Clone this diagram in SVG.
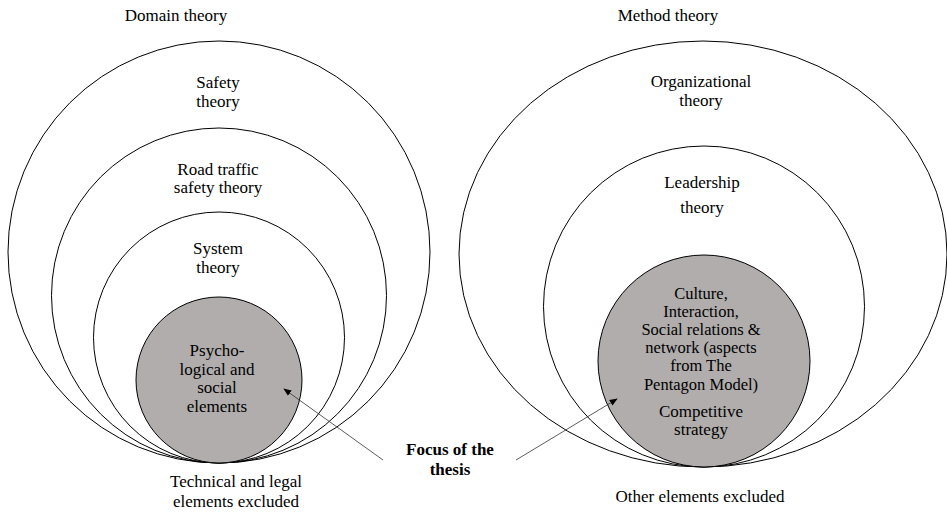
<svg xmlns="http://www.w3.org/2000/svg" width="947" height="513" viewBox="0 0 947 513" font-family="'Liberation Serif', 'DejaVu Serif', serif">
  <style>
    .ring { fill: none; stroke: #000; stroke-width: 1; }
    .core { fill: #b0adac; stroke: #000; stroke-width: 1; }
    text { font-family: 'Liberation Serif', 'DejaVu Serif', serif; font-size: 17px; fill: #000; text-anchor: middle; }
    .dense { font-size: 16.5px; }
    .bold { font-weight: bold; }
    .pointer { stroke: #333; stroke-width: 0.8; fill: none; marker-end: url(#tip); }
  </style>
  <defs>
    <marker id="tip" viewBox="0 0 10 10" refX="9" refY="5" markerWidth="8" markerHeight="8" markerUnits="userSpaceOnUse" orient="auto">
      <path d="M0,1 L10,5 L0,9 Z" fill="#000"/>
    </marker>
  </defs>
  <rect width="947" height="513" fill="#fff"/>

  <!-- Left nest: domain theory -->
  <text x="176" y="21">Domain theory</text>
  <g id="safety-theory">
    <circle class="ring" cx="219" cy="252" r="211"/>
    <text x="218" y="88">Safety</text>
    <text x="218" y="107">theory</text>
  </g>
  <g id="road-traffic-safety-theory">
    <circle class="ring" cx="219" cy="295.5" r="167.5"/>
    <text x="218" y="175">Road traffic</text>
    <text x="218" y="193">safety theory</text>
  </g>
  <g id="system-theory">
    <circle class="ring" cx="219" cy="337.5" r="125.5"/>
    <text x="218" y="254">System</text>
    <text x="218" y="273">theory</text>
  </g>
  <g id="psychological-social">
    <circle class="core" cx="219" cy="380" r="83"/>
    <text x="217" y="356">Psycho-</text>
    <text x="217" y="375">logical and</text>
    <text x="217" y="393">social</text>
    <text x="217" y="412">elements</text>
  </g>
  <g id="left-excluded">
    <text x="236" y="487">Technical and legal</text>
    <text x="236" y="507">elements excluded</text>
  </g>

  <!-- Right nest: method theory -->
  <text x="668" y="21">Method theory</text>
  <g id="organizational-theory">
    <ellipse class="ring" cx="703" cy="254" rx="244" ry="213"/>
    <text x="701" y="87">Organizational</text>
    <text x="701" y="106">theory</text>
  </g>
  <g id="leadership-theory">
    <circle class="ring" cx="704" cy="306.5" r="160.5"/>
    <text x="702" y="188">Leadership</text>
    <text x="702" y="213">theory</text>
  </g>
  <g id="culture-strategy">
    <circle class="core" cx="704" cy="361" r="106"/>
    <text class="dense" x="701" y="299">Culture,</text>
    <text class="dense" x="701" y="317">Interaction,</text>
    <text class="dense" x="701" y="335">Social relations &amp;</text>
    <text class="dense" x="701" y="353">network (aspects</text>
    <text class="dense" x="701" y="371">from The</text>
    <text class="dense" x="701" y="390">Pentagon Model)</text>
    <text x="701" y="417">Competitive</text>
    <text x="701" y="435">strategy</text>
  </g>
  <g id="right-excluded">
    <text x="700" y="502">Other elements excluded</text>
  </g>

  <!-- Focus label -->
  <g id="focus">
    <text class="bold" x="450" y="455">Focus of the</text>
    <text class="bold" x="450" y="475">thesis</text>
  </g>

  <!-- Pointers from the focus label into both cores -->
  <g id="connectors">
    <line class="pointer" x1="383" y1="460" x2="284" y2="389"/>
    <line class="pointer" x1="516" y1="460" x2="617" y2="399"/>
  </g>
</svg>
